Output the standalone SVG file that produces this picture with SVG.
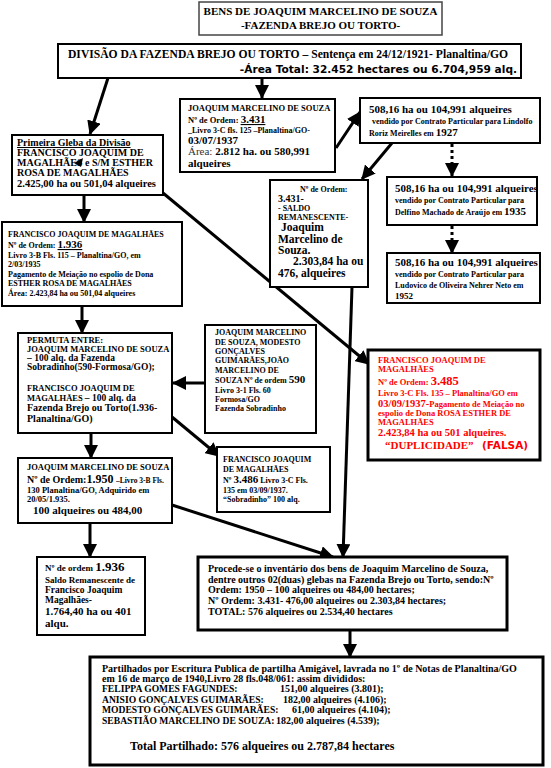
<svg xmlns="http://www.w3.org/2000/svg" width="551" height="768" viewBox="0 0 551 768">
<style>
text{font-family:"Liberation Serif","Times New Roman",serif;font-weight:bold;fill:#000}
.box{fill:#fff;stroke:#000;stroke-width:2}
.thick{fill:#fff;stroke:#000;stroke-width:3}
.c{stroke:#000;stroke-width:3;fill:none;marker-end:url(#ah)}
.d{stroke:#000;stroke-width:3;fill:none;stroke-dasharray:3 3;marker-end:url(#ah)}
.sans{font-family:"DejaVu Sans","Liberation Sans",Arial,sans-serif}
.red{fill:#ff0000}
.u{text-decoration:underline}
</style>
<defs>
<marker id="ah" markerUnits="userSpaceOnUse" markerWidth="14" markerHeight="14" refX="13" refY="7" orient="auto"><path d="M0,0 L14,7 L0,14 z" fill="#000"/></marker>
</defs>
<rect width="551" height="768" fill="#fff"/>

<g id="connectors">
<line class="c" x1="262" y1="78" x2="262" y2="98"/>
<line class="c" x1="108" y1="78" x2="90" y2="134"/>
<line class="c" x1="336" y1="148" x2="360" y2="112"/>
<line class="c" x1="392" y1="143" x2="362" y2="179"/>
<line class="d" x1="452" y1="144" x2="452" y2="176"/>
<line class="d" x1="452" y1="226" x2="452" y2="253"/>
<line class="c" x1="84" y1="195" x2="84" y2="222"/>
<line class="c" x1="163" y1="193" x2="369" y2="364"/>
<line class="c" x1="82" y1="306" x2="82" y2="333"/>
<line class="c" x1="205" y1="383" x2="173" y2="383"/>
<line class="c" x1="172" y1="417" x2="219" y2="456"/>
<line class="c" x1="91" y1="433" x2="91" y2="458"/>
<line class="c" x1="352" y1="287" x2="343" y2="557"/>
<line class="c" x1="90" y1="523" x2="90" y2="557"/>
<line class="c" x1="172" y1="505" x2="333" y2="557"/>
<line class="c" x1="350" y1="630" x2="350" y2="657"/>
</g>

<g id="title">
<rect x="199" y="2" width="243" height="33" fill="#fff" stroke="#444" stroke-width="1.5"/>
<text x="320.5" y="15" font-size="11" text-anchor="middle">BENS DE JOAQUIM MARCELINO DE SOUZA</text>
<text x="320.5" y="29" font-size="11" text-anchor="middle">-FAZENDA BREJO OU TORTO-</text>
</g>

<g id="divisao">
<rect class="box" x="58" y="44" width="463" height="34"/>
<text x="68" y="58" font-size="11.6">DIVISÃO DA FAZENDA BREJO OU TORTO – Sentença em 24/12/1921- Planaltina/GO</text>
<text class="sans" x="517" y="73" font-size="10.6" text-anchor="end">-Área Total: 32.452 hectares ou 6.704,959 alq.</text>
</g>

<g id="joaquim-3431">
<rect class="box" x="180" y="99" width="155" height="73"/>
<text x="188" y="111" font-size="8.5">JOAQUIM MARCELINO DE SOUZA</text>
<text x="188" y="123" font-size="8.5">Nº de Ordem: <tspan class="u" font-size="11">3.431</tspan></text>
<text x="188" y="133" font-size="8">_Livro 3-C fls. 125 –Planaltina/GO-</text>
<text x="188" y="144" font-size="11">03/07/1937</text>
<text x="188" y="155" font-size="11"><tspan font-weight="normal" fill="#333">Área: </tspan>2.812 ha. ou  580,991</text>
<text x="188" y="167" font-size="11">alqueires</text>
</g>

<g id="venda-1927">
<rect class="box" x="360" y="98" width="180" height="45"/>
<text x="369" y="113" font-size="11">508,16 ha ou 104,991 alqueires</text>
<text x="372" y="124" font-size="8">vendido por Contrato Particular para Lindolfo</text>
<text x="369" y="136" font-size="8">Roriz Meirelles em <tspan font-size="11">1927</tspan></text>
</g>

<g id="venda-1935">
<rect class="box" x="387" y="177" width="150" height="48"/>
<text x="395" y="192" font-size="11">508,16 ha ou 104,991  alqueires</text>
<text x="395" y="203" font-size="8">vendido por Contrato Particular para</text>
<text x="395" y="215" font-size="8">Delfino Machado de Araújo em <tspan font-size="11">1935</tspan></text>
</g>

<g id="venda-1952">
<rect class="box" x="387" y="253" width="153" height="50"/>
<text x="395" y="266" font-size="11">508,16 ha ou 104,991 alqueires</text>
<text x="395" y="277" font-size="8">vendido por Contrato Particular para</text>
<text x="395" y="288" font-size="8">Ludovico de Oliveira Nehrer Neto em</text>
<text x="395" y="299" font-size="9">1952</text>
</g>

<g id="primeira-gleba">
<rect class="box" x="12" y="135" width="151" height="60"/>
<text x="17" y="146" font-size="10" class="u">Primeira Gleba da Divisão</text>
<text x="17" y="156" font-size="10">FRANCISCO JOAQUIM DE</text>
<text x="17" y="166" font-size="10">MAGALHÃES e S/M ESTHER</text>
<text x="17" y="176" font-size="10">ROSA DE MAGALHÃES</text>
<text x="17" y="187" font-size="10.5">2.425,00 ha ou 501,04 alqueires</text>
<polygon points="74,163 83,158 81,167" fill="#000"/>
</g>

<g id="francisco-1936">
<rect class="box" x="2" y="222" width="180" height="84"/>
<text x="8" y="237" font-size="8">FRANCISCO JOAQUIM DE MAGALHÃES</text>
<text x="8" y="248" font-size="8">Nº de Ordem: <tspan class="u" font-size="11">1.936</tspan></text>
<text x="8" y="258" font-size="8">Livro 3-B Fls. 115 – Planaltina/GO, em</text>
<text x="8" y="267" font-size="8">2/03/1935</text>
<text x="8" y="277" font-size="8">Pagamento de Meiação no espolio de Dona</text>
<text x="8" y="286" font-size="8">ESTHER ROSA DE MAGALHÃES</text>
<text x="8" y="296" font-size="8">Área: 2.423,84 ha ou 501,04 alqueires</text>
</g>

<g id="saldo-3431">
<rect class="box" x="270" y="180" width="98" height="107"/>
<text x="300" y="192" font-size="8">Nº de Ordem:</text>
<text x="278" y="202" font-size="10">3.431-</text>
<text x="278" y="211" font-size="8">- SALDO</text>
<text x="278" y="220" font-size="8">REMANESCENTE-</text>
<text x="281" y="231" font-size="11.5"> Joaquim</text>
<text x="278" y="243" font-size="11.5">Marcelino de</text>
<text x="278" y="254" font-size="11.5">Souza.</text>
<text x="293" y="265" font-size="11.5">2.303,84 ha ou</text>
<text x="278" y="277" font-size="11.5">476, alqueires</text>
</g>

<g id="permuta">
<rect class="box" x="18" y="333" width="154" height="100"/>
<text x="27" y="343" font-size="8.5">PERMUTA ENTRE:</text>
<text x="27" y="352" font-size="8.5">JOAQUIM MARCELINO DE SOUZA</text>
<text x="27" y="361" font-size="9.5">– 100 alq. da Fazenda</text>
<text x="27" y="370" font-size="9.5">Sobradinho(590-Formosa/GO);</text>
<text x="27" y="391" font-size="8.5">FRANCISCO JOAQUIM DE</text>
<text x="27" y="401" font-size="8.5">MAGALHÃES <tspan font-size="9.5">– 100 alq. da</tspan></text>
<text x="27" y="411" font-size="10">Fazenda Brejo ou Torto(1.936-</text>
<text x="27" y="422" font-size="10">Planaltina/GO)</text>
</g>

<g id="joaquim-590">
<rect class="box" x="205" y="325" width="111" height="108"/>
<text x="215" y="335" font-size="8">JOAQUIM MARCELINO</text>
<text x="215" y="345" font-size="8">DE SOUZA, MODESTO</text>
<text x="215" y="354" font-size="8">GONÇALVES</text>
<text x="215" y="363" font-size="8">GUIMARÃES,JOÃO</text>
<text x="215" y="373" font-size="8">MARCELINO DE</text>
<text x="215" y="383" font-size="8">SOUZA Nº de ordem <tspan font-size="11">590</tspan></text>
<text x="215" y="393" font-size="8">Livro 3-1 Fls. 60</text>
<text x="215" y="402" font-size="8">Formosa/GO</text>
<text x="215" y="411" font-size="8">Fazenda Sobradinho</text>
</g>

<g id="francisco-3485">
<rect class="thick" x="368" y="350" width="172" height="110"/>
<text class="red" x="378" y="363" font-size="8.5">FRANCISCO JOAQUIM DE</text>
<text class="red" x="378" y="372" font-size="8.5">MAGALHÃES</text>
<text class="red" x="378" y="385" font-size="8.5">Nº de Ordem: <tspan font-size="12.5">3.485</tspan></text>
<text class="red" x="378" y="396" font-size="8.5">Livro 3-C Fls. 135 – Planaltina/GO em</text>
<text class="red" x="378" y="407" font-size="10.5">03/09/1937-<tspan font-size="8.5">Pagamento de Meiação no</tspan></text>
<text class="red" x="378" y="416" font-size="8.5">espolio de Dona ROSA ESTHER DE</text>
<text class="red" x="378" y="425" font-size="8.5">MAGALHÃES</text>
<text class="red" x="378" y="436" font-size="10.5">2.423,84 ha ou 501 alqueires.</text>
<text class="red" x="385" y="449" font-size="11">“DUPLICIDADE”</text>
<text class="red sans" x="482" y="449" font-size="10.5">(FALSA)</text>
</g>

<g id="francisco-3486">
<rect class="box" x="217" y="447" width="113" height="65"/>
<text x="223" y="462" font-size="8">FRANCISCO JOAQUIM</text>
<text x="223" y="472" font-size="8">DE MAGALHÃES</text>
<text x="223" y="483" font-size="8">Nº <tspan font-size="11">3.486</tspan> Livro 3-C Fls.</text>
<text x="223" y="493" font-size="8">135 em 03/09/1937.</text>
<text x="223" y="502" font-size="8">“Sobradinho” 100 alq.</text>
</g>

<g id="joaquim-1950">
<rect class="box" x="18" y="458" width="154" height="65"/>
<text x="27" y="470" font-size="8.5">JOAQUIM MARCELINO DE SOUZA</text>
<text x="27" y="483" font-size="10">Nº de Ordem:<tspan font-size="12">1.950</tspan> <tspan font-size="7.5">–Livro 3-B Fls.</tspan></text>
<text x="27" y="493" font-size="8.5">130 Planaltina/GO, Adquirido em</text>
<text x="27" y="502" font-size="8.5">20/05/1.935.</text>
<text x="33" y="514" font-size="11">100 alqueires ou 484,00</text>
</g>

<g id="saldo-1936">
<rect class="box" x="37" y="557" width="108" height="78"/>
<text x="45" y="571" font-size="9">Nº de ordem <tspan font-size="13">1.936</tspan></text>
<text x="45" y="583" font-size="9">Saldo Remanescente de</text>
<text x="45" y="593" font-size="9.5">Francisco Joaquim</text>
<text x="45" y="603" font-size="9.5">Magalhães-</text>
<text x="45" y="615" font-size="11">1.764,40 ha ou 401</text>
<text x="45" y="627" font-size="11">alqu.</text>
</g>

<g id="inventario">
<rect class="thick" x="198" y="557" width="309" height="73"/>
<text x="208" y="572" font-size="10">Procede-se o inventário dos bens de Joaquim Marcelino de Souza,</text>
<text x="208" y="583" font-size="10">dentre outros 02(duas) glebas na Fazenda Brejo ou Torto, sendo:Nº</text>
<text x="208" y="593" font-size="10">Ordem: 1950 – 100 alqueires ou 484,00 hectares;</text>
<text x="208" y="604" font-size="10">Nº Ordem: 3.431- 476,00 alqueires ou 2.303,84 hectares;</text>
<text x="208" y="615" font-size="10">TOTAL: 576 alqueires ou 2.534,40 hectares</text>
</g>

<g id="partilha">
<rect class="thick" x="90" y="657" width="453" height="108"/>
<text x="102" y="672" font-size="10">Partilhados por Escritura Publica de partilha Amigável, lavrada no 1º de Notas de Planaltina/GO</text>
<text x="102" y="682" font-size="10">em 16 de março de 1940,Livro 28  fls.048/061:  assim divididos:</text>
<text x="102" y="692" font-size="9.6">FELIPPA GOMES FAGUNDES:</text>
<text x="280" y="692" font-size="10">151,00 alqueires (3.801);</text>
<text x="102" y="703" font-size="9.6">ANISIO GONÇALVES GUIMARÃES:</text>
<text x="283" y="703" font-size="10">182,00 alqueires (4.106);</text>
<text x="102" y="713" font-size="9.6">MODESTO GONÇALVES GUIMARÃES:</text>
<text x="292" y="713" font-size="10">61,00 alqueires (4.104);</text>
<text x="102" y="724" font-size="9.6">SEBASTIÃO MARCELINO DE SOUZA:</text>
<text x="276" y="724" font-size="10">182,00 alqueires (4.539);</text>
<text x="130" y="750" font-size="12">Total Partilhado: 576 alqueires ou 2.787,84 hectares</text>
</g>
</svg>
